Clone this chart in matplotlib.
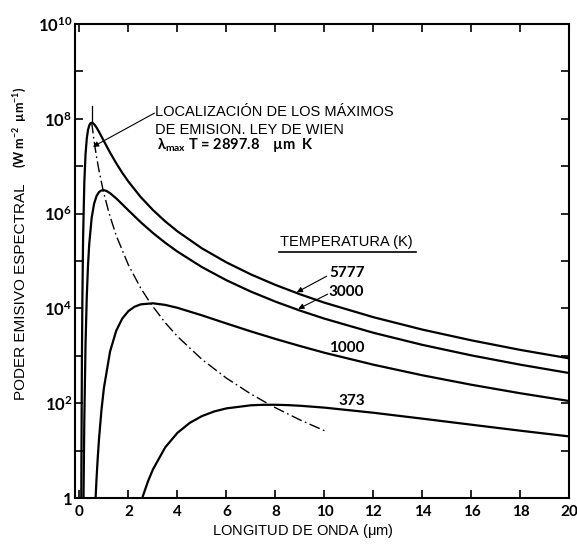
import matplotlib
matplotlib.use("Agg")
import matplotlib.pyplot as plt
from matplotlib.ticker import NullLocator

plt.rcParams['mathtext.default'] = 'regular'

# spectral emissive power (W m-2 um-1), per temperature
wl_5777 = [0.075, 0.08, 0.1, 0.12, 0.15, 0.2, 0.25, 0.3, 0.35, 0.4, 0.45, 0.5, 0.55, 0.6, 0.7,
           0.8, 0.9, 1.0, 1.25, 1.5, 1.75, 2, 2.5, 3, 3.5, 4, 5, 6, 7, 8, 9, 10, 12, 14, 16, 18, 20]
e_5777 = [0.6, 3.45, 571, 1.46e4, 3.03e5, 4.57e6, 1.81e7, 3.82e7, 5.79e7, 7.24e7, 8.04e7, 8.28e7,
          8.12e7, 7.70e7, 6.53e7, 5.31e7, 4.25e7, 3.38e7, 1.94e7, 1.16e7, 7.24e6, 4.73e6, 2.24e6,
          1.19e6, 6.87e5, 4.23e5, 1.85e5, 9.35e4, 5.21e4, 3.13e4, 1.99e4, 1.32e4, 6.52e3, 3.57e3,
          2.12e3, 1.33e3, 882]

wl_3000 = [0.15, 0.16, 0.17, 0.2, 0.25, 0.3, 0.35, 0.4, 0.5, 0.6, 0.7, 0.8, 0.9, 1.0, 1.1, 1.25,
           1.5, 1.75, 2, 2.5, 3, 3.5, 4, 5, 6, 7, 8, 9, 10, 12, 14, 16, 18, 20]
e_3000 = [0.064, 0.342, 1.47, 45.0, 1790, 1.76e4, 7.97e4, 2.27e5, 8.18e5, 1.63e6, 2.36e6, 2.85e6,
          3.09e6, 3.12e6, 3.01e6, 2.70e6, 2.10e6, 1.57e6, 1.17e6, 6.60e5, 3.90e5, 2.43e5, 1.58e5,
          7.44e4, 3.93e4, 2.26e4, 1.39e4, 9.00e3, 6.08e3, 3.06e3, 1.70e3, 1.02e3, 649, 432]

wl_1000 = [0.65, 0.7, 0.75, 0.8, 0.9, 1.0, 1.25, 1.5, 1.75, 2, 2.25, 2.5, 3, 3.5, 4, 5, 6, 7, 8, 9,
           10, 12, 14, 16, 18, 20]
e_1000 = [0.786, 2.64, 7.35, 17.7, 72.3, 211, 1230, 3360, 6130, 8790, 10860, 12170, 12830, 11870,
          10300, 7140, 4810, 3270, 2270, 1610, 1160, 649, 388, 245, 162, 111]

wl_373 = [2.55, 2.6, 2.8, 3, 3.5, 4, 4.5, 5, 5.5, 6, 7, 7.5, 8, 8.5, 9, 10, 12, 14, 16, 18, 20]
e_373 = [0.935, 1.14, 2.26, 4.01, 11.7, 23.7, 38.4, 53.5, 67.0, 77.8, 90.4, 92.6, 92.7, 91.2, 88.4,
         80.7, 62.9, 47.2, 35.2, 26.3, 19.9]

# locus of the maxima (Wien)
wl_wien = [0.5, 0.6, 0.7, 0.8, 0.97, 1.2, 1.5, 2, 2.5, 2.9, 3.5, 4, 5, 6, 7, 7.77, 8, 9, 10]
e_wien = [8.41e7, 3.38e7, 1.56e7, 8.02e6, 3.06e6, 1.06e6, 3.46e5, 8.22e4, 2.69e4, 1.28e4, 5.01e3,
          2.57e3, 841, 338, 156, 92.9, 80.2, 44.5, 26.3]

peak_wl = 0.5
peak_top = 1.9e8

x_ticks = [0, 2, 4, 6, 8, 10, 12, 14, 16, 18, 20]
y_ticks = [1, 1e1, 1e2, 1e3, 1e4, 1e5, 1e6, 1e7, 1e8, 1e9, 1e10]
y_ticklabels = ['1', '', '$10^{2}$', '', '$10^{4}$', '', '$10^{6}$', '', '$10^{8}$', '', '$10^{10}$']

fig = plt.figure(figsize=(5.77, 5.52), dpi=100)
ax = fig.add_axes([0.130, 0.0978, 0.857, 0.8587])
ax.set_yscale('log')

for wl, e in [(wl_5777, e_5777), (wl_3000, e_3000), (wl_1000, e_1000), (wl_373, e_373)]:
    ax.plot(wl, e, color='k', lw=1.6, solid_joinstyle='round')
ax.plot(wl_wien, e_wien, color='k', lw=1.0, linestyle=(0, (8, 2.5, 1.2, 2.5)))
ax.plot([peak_wl, peak_wl], [e_5777[11], peak_top], color='k', lw=0.9)

ax.set_xlim(-0.18, 20)
ax.set_ylim(1, 1e10)
ax.set_xticks(x_ticks)
ax.set_xticklabels([str(t) for t in x_ticks])
ax.set_yticks(y_ticks)
ax.set_yticklabels(y_ticklabels)
ax.yaxis.set_minor_locator(NullLocator())
ax.tick_params(direction='in', length=6, width=1.2, top=True, right=True)
ax.tick_params(axis='x', pad=5)
ax.tick_params(axis='y', pad=2)
for lab in ax.get_xticklabels():
    lab.set_fontfamily('Lato')
    lab.set_fontweight('bold')
    lab.set_fontsize(11)
for lab in ax.get_yticklabels():
    lab.set_fontfamily('Lato')
    lab.set_fontweight('bold')
    lab.set_fontsize(12)
for sp in ax.spines.values():
    sp.set_linewidth(1.5)

arial = 'Liberation Sans'
ax.text(3.08, 10**8.06, 'LOCALIZACIÓN DE LOS MÁXIMOS', family=arial, fontsize=10.5, va='baseline')
ax.text(3.08, 10**7.68, 'DE EMISION. LEY DE WIEN', family=arial, fontsize=10.5, va='baseline')
ax.text(3.16, 10**7.37, r'$\lambda_{max}$ T = 2897.8    µm  K', family='Lato', fontweight='bold',
        fontsize=10.5, va='baseline')
ax.annotate('', xy=(0.55, 10**7.41), xytext=(3.06, 10**8.12),
            arrowprops=dict(arrowstyle='-|>', color='k', lw=0.8, mutation_scale=8,
                            shrinkA=0, shrinkB=0))

ax.text(8.18, 10**5.40, 'TEMPERATURA (K)', family=arial, fontsize=10.5, va='center')
ax.plot([8.14, 13.73], [10**5.19, 10**5.19], color='k', lw=1.2)

lbl = dict(family='Lato', fontweight='bold', fontsize=11)
ax.text(10.2, 10**4.74, '5777', va='center', **lbl)
ax.text(10.17, 10**4.35, '3000', va='center', **lbl)
ax.text(10.93, 10**3.16, '1000', va='center', ha='center', **lbl)
ax.text(11.1, 10**2.05, '373', va='center', ha='center', **lbl)
arr = dict(arrowstyle='-|>', color='k', lw=0.8, mutation_scale=8, shrinkA=0, shrinkB=0)
ax.annotate('', xy=(8.87, 10**4.34), xytext=(10.09, 10**4.68), arrowprops=arr)
ax.annotate('', xy=(8.93, 10**3.99), xytext=(10.13, 10**4.30), arrowprops=arr)

fig.text(0.036, 1 - 400 / 552, 'PODER EMISIVO ESPECTRAL', family=arial, fontsize=11,
         rotation=90, ha='center', va='bottom')
fig.text(0.035, 1 - 168 / 552, '(W m$^{-2}$  µm$^{-1}$)', family='Lato', fontweight='bold',
         fontsize=9, rotation=90, ha='center', va='bottom')
fig.text(303 / 577, 0.038, 'LONGITUD DE ONDA ($\\mu$m)', family=arial, fontsize=10.5,
         ha='center', va='center')

fig.savefig('out.png', dpi=100)
